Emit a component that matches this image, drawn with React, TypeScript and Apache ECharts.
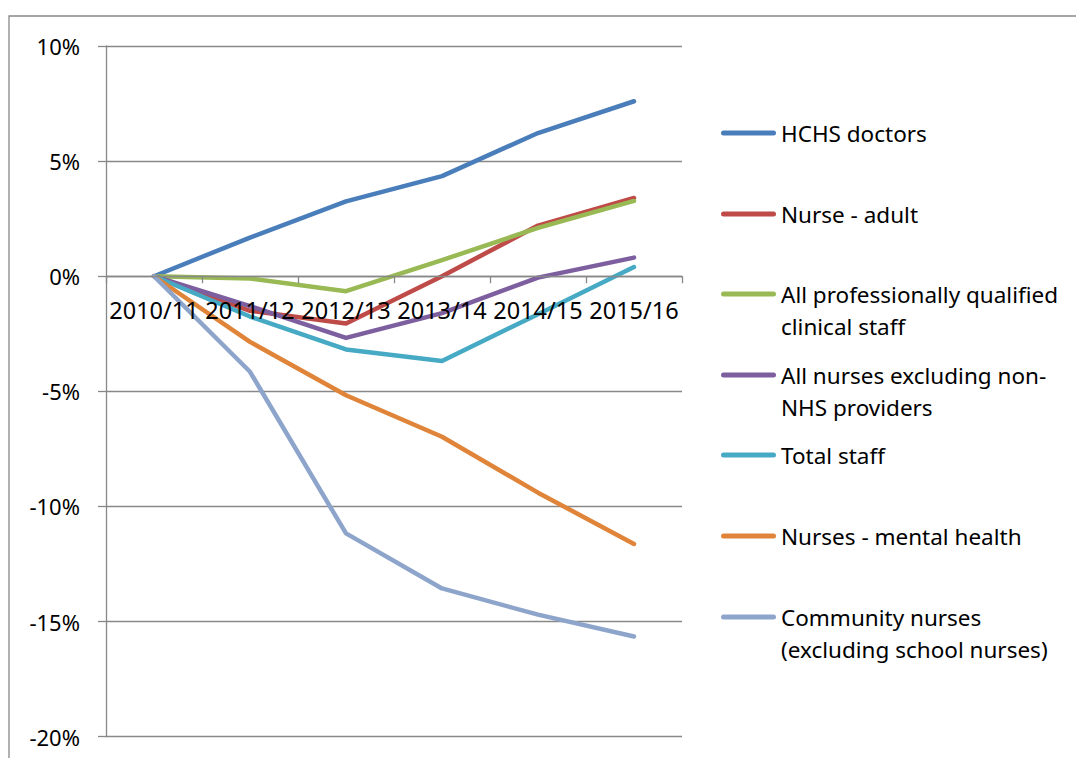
import React, { useEffect, useRef } from "react";
import * as echarts from "echarts";

const categories = ["2010/11", "2011/12", "2012/13", "2013/14", "2014/15", "2015/16"];
const seriesNames = [
  "HCHS doctors",
  "Nurse - adult",
  "All professionally qualified clinical staff",
  "All nurses excluding non-NHS providers",
  "Total staff",
  "Nurses - mental health",
  "Community nurses (excluding school nurses)",
];
const legendLabels = [
  "HCHS doctors",
  "Nurse - adult",
  "All professionally qualified\nclinical staff",
  "All nurses excluding non-\nNHS providers",
  "Total staff",
  "Nurses - mental health",
  "Community nurses\n(excluding school nurses)",
];
const hchsDoctors = [0, 1.68, 3.25, 4.35, 6.22, 7.6];
const nurseAdult = [0, -1.5, -2.05, 0, 2.2, 3.4];
const allQualified = [0, -0.1, -0.65, 0.7, 2.1, 3.27];
const allNurses = [0, -1.3, -2.68, -1.6, -0.06, 0.81];
const totalStaff = [0, -1.75, -3.18, -3.68, -1.65, 0.4];
const nursesMental = [0, -2.85, -5.17, -6.97, -9.4, -11.63];
const communityNurses = [0, -4.15, -11.17, -13.56, -14.7, -15.65];
const yMin = -20;
const yMax = 10;
const yInterval = 5;

const seriesData = [hchsDoctors, nurseAdult, allQualified, allNurses, totalStaff, nursesMental, communityNurses];
const colors = ["#4A7EBB", "#BE4B48", "#98B954", "#7D5FA0", "#46AAC4", "#DF8438", "#8EA5CB"];
const legendCenters = [133, 214, 294, 375, 455, 536, 617];

const FONT = "'Noto Sans', sans-serif";
const LH = 32;
const GRID_TOP = 46;
const GRID_BOTTOM_Y = 736.7;
const CAPSULE = "path://M2.5,0H52.5A2.5,2.5,0,0,1,52.5,5H2.5A2.5,2.5,0,0,1,2.5,0Z";

export default function App() {
  const ref = useRef<HTMLDivElement>(null);
  useEffect(() => {
    document.body.style.margin = "0";
    const chart = echarts.init(ref.current!, null, { renderer: "svg" });
    const plotH = GRID_BOTTOM_Y - GRID_TOP;
    const zeroY = GRID_TOP + ((yMax - 0) / (yMax - yMin)) * plotH;
    const legends = seriesNames.map((name, i) => {
      const twoLine = legendLabels[i].includes("\n");
      const boxH = twoLine ? LH * 3 : LH;
      return {
        data: [{ name, icon: CAPSULE, itemStyle: { color: colors[i] } }],
        left: 721,
        top: legendCenters[i] - boxH / 2,
        padding: 0,
        itemWidth: 55,
        itemHeight: 5,
        itemGap: 0,
        selectedMode: false,
        formatter: () => (twoLine ? "\n" + legendLabels[i] : legendLabels[i]),
        textStyle: {
          fontFamily: FONT,
          fontSize: 22.5,
          color: "#000",
          lineHeight: LH,
        },
      };
    });
    chart.setOption({
      animation: false,
      backgroundColor: "#fff",
      grid: {
        left: 106,
        right: 394,
        top: GRID_TOP,
        bottom: 758 - GRID_BOTTOM_Y,
        containLabel: false,
        outerBoundsMode: "none",
      },
      legend: legends,
      graphic: [
        {
          type: "rect",
          shape: { x: 9, y: 16, width: 1200, height: 900 },
          style: { fill: "none", stroke: "#888", lineWidth: 1.3 },
          silent: true,
        },
      ],
      xAxis: {
        type: "category",
        data: categories,
        boundaryGap: true,
        position: "bottom",
        z: 10,
        offset: -(GRID_BOTTOM_Y - zeroY),
        axisLine: { onZero: false, lineStyle: { color: "#888", width: 1.3 } },
        axisTick: { show: true, length: 7, alignWithLabel: false, lineStyle: { color: "#888", width: 1.3 } },
        axisLabel: { interval: 0, margin: 22, fontFamily: FONT, fontSize: 23.5, color: "#000" },
        splitLine: { show: false },
      },
      yAxis: {
        type: "value",
        min: yMin,
        max: yMax,
        interval: yInterval,
        axisLine: { show: true, lineStyle: { color: "#888", width: 1.3 } },
        axisTick: { show: true, length: 8, lineStyle: { color: "#888", width: 1.3 } },
        axisLabel: { formatter: "{value}%", margin: 26, fontFamily: FONT, fontSize: 22, color: "#000" },
        splitLine: { show: true, lineStyle: { color: "#888", width: 1.3 } },
      },
      series: seriesNames.map((name, i) => ({
        name,
        type: "line",
        data: seriesData[i],
        symbol: "none",
        showSymbol: false,
        color: colors[i],
        z: 3,
        lineStyle: { width: 4.5, color: colors[i], cap: "round", join: "round" },
      })),
    });
    return () => chart.dispose();
  }, []);
  return <div ref={ref} style={{ width: 1076, height: 758 }} />;
}
